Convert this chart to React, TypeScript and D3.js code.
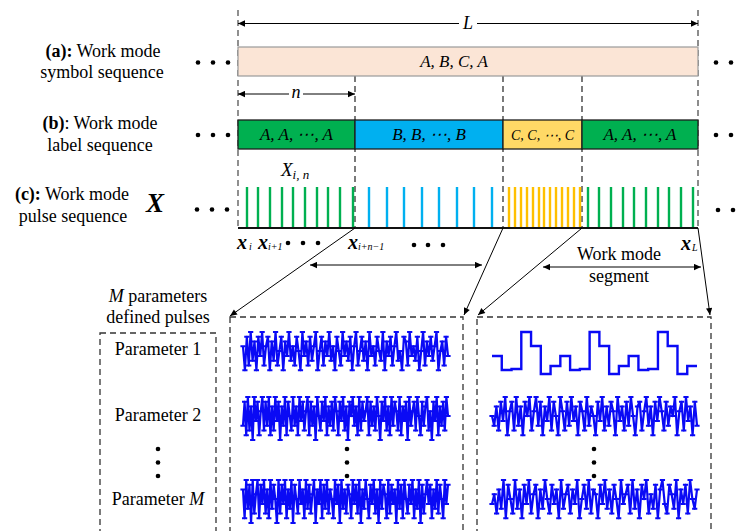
import React from 'react';
import * as d3 from 'd3';

// ---- work mode window: time axis of one symbol window of length L ----
const windowSpan = [0, 460];
const modeBounds = [0, 117, 265, 344, 460];
const modeLabels = ['A, A,  \u22EF, A', 'B, B,  \u22EF, B', 'C, C, \u22EF, C', 'A, A,  \u22EF, A'];
const modeLabelSizes = [17, 17, 14, 17];
const modeFills = ['#00B050', '#00B0F0', '#FFD966', '#00B050'];
const pulseColors = ['#00B050', '#00B0F0', '#FFC000', '#00B050'];
const symbolText = 'A, B, C, A';

// pulse arrival times per segment
const toaSeg1 = [9, 20, 32, 44, 55, 67, 79, 90, 102, 115];
const toaSeg2 = [131, 149, 166, 184, 201, 219, 236, 254];
const toaSeg3 = [271, 277, 283, 289, 295, 301, 306, 312, 318, 324, 330, 336, 342];
const toaSeg4 = [350, 361, 373, 385, 396, 408, 420, 431, 443, 455];
const pulseToas = [toaSeg1, toaSeg2, toaSeg3, toaSeg4];

// ---- parameters of the pulses ----
const longParam1 = [6,1,8,2,9,3,7,1,8,4,9,2,6,8,1,7,3,9,2,5,8,1,7,4,9,3,6,2,8,5,1,9,4,7,2,8,3,6,9,1,5,8,2,7,4,9,3,6,1,8,5,2,9,4,7,3,8,1,6,9,2,5,8,3,7,1,9,4,6,2,8,5,3,9,1,7,4,8,2,6,9,3,5,1,8,7,2,9,4,6,3,8,1,5,9,2,7,4,8,3,6,9,1,5,7,2,8,4];
const longParam2 = [3,8,1,9,2,7,0,9,4,8,1,6,9,2,8,3,9,1,7,2,9,4,8,0,7,3,9,1,8,5,2,9,3,7,1,9,4,8,2,6,9,1,8,3,7,0,9,5,2,8,4,9,1,7,3,8,2,9,6,1,8,4,9,2,7,0,8,5,9,3,7,1,9,2,8,4,6,9,1,8,3,7,2,9,5,0,8,4,9,2,7,1,9,3,8,6,2,9,1,7,4,8,0,9,3,6,8,2,9,5,1,8,3,7,9,2,6,0,8,4,9,1,7,3,8,2,9,5];
const longParamM = [7,1,9,3,8,0,9,2,6,9,1,8,4,9,2,7,1,9,3,8,5,0,9,2,8,4,9,1,7,3,9,0,8,5,2,9,4,7,1,9,3,8,2,6,9,0,7,4,9,1,8,3,9,2,7,5,1,9,4,8,0,9,3,7,2,8,6,1,9,4,8,2,9,0,7,3,9,5,1,8,4,9,2,7,0,9,3,8,6,1,9,2,8,4,7,0,9,3,8,1,9,5,2,8,4,9,1,7,3,9,0,8,2,6,9,4,8,1,7,3,9,2,8,5,1,9,4,8];

const segParam1 = [18,4,5,42,28,0,8,18,4,5,42,28,0,8,18,4,5,42,28,0,8];
const segParam2 = [5,3,7,2,8,4,9,1,6,8,2,9,3,7,1,8,5,9,2,6,9,3,8,1,7,4,9,2,8,5,1,9,6,2,8,3,9,4,7,1,8,6,2,9,3,7,5,1,8,4,9,2,7,3,8,6,1,9,4,7,2,8,3,9,5,1,7,8,2,6,9,3,7,1,8,4,9,6,2,8,3,7,5,9,1,6,8,2,9,4,7,1,8,3];
const segParamM = [4,6,2,7,3,9,1,8,5,2,9,3,7,1,8,4,9,2,6,8,1,7,3,9,5,2,8,4,7,1,9,3,6,8,2,7,4,9,1,5,8,3,9,2,7,6,1,8,4,9,3,7,2,8,5,1,9,4,6,8,2,9,3,7,1,8,5,9,2,6,3,8,1,7,9,4,2,8,6,3,9,1,7,4,8,2,9,5,3,7];

const paramLabels = ['Parameter 1', 'Parameter 2'];

const SERIF = '"Liberation Serif", "Times New Roman", serif';
const BLUE = '#0A0AF5';
const DASH = '6,4';

function noisePath(values: number[], x0: number, x1: number, top: number, bottom: number) {
  const xs = d3.scaleLinear().domain([0, values.length - 1]).range([x0, x1]);
  const ys = d3.scaleLinear().domain([0, 9]).range([bottom, top]);
  const line = d3.line<number>().x((_, i) => xs(i)).y((d) => ys(d));
  const caps = values.map((d, i) => `M${xs(i) - 2.6},${ys(d)}h5.2`).join('');
  return { line: line(values) || '', caps };
}

function NoiseTrace(props: { values: number[]; x0: number; x1: number; top: number; bottom: number }) {
  const { line, caps } = noisePath(props.values, props.x0, props.x1, props.top, props.bottom);
  return (
    <g>
      <path d={line} fill="none" stroke={BLUE} strokeWidth={2.2} strokeLinejoin="round" />
      <path d={caps} fill="none" stroke={BLUE} strokeWidth={2} />
    </g>
  );
}

function StepTrace(props: { values: number[]; x0: number; x1: number; top: number; bottom: number }) {
  const data = [...props.values, props.values[props.values.length - 1]];
  const xs = d3.scaleLinear().domain([0, data.length - 1]).range([props.x0, props.x1]);
  const ys = d3.scaleLinear().domain([0, 42]).range([props.bottom, props.top]);
  const line = d3.line<number>().x((_, i) => xs(i)).y((d) => ys(d)).curve(d3.curveStepAfter);
  return <path d={line(data) || ''} fill="none" stroke={BLUE} strokeWidth={2.4} />;
}

function Dots(props: { x: number[]; y: number[]; r?: number }) {
  const out: React.ReactNode[] = [];
  props.x.forEach((x, i) => props.y.forEach((y, j) => out.push(<circle key={`${i}-${j}`} cx={x} cy={y} r={props.r ?? 2.3} fill="#000" />)));
  return <g>{out}</g>;
}

export default function App() {
  const xSeq = d3.scaleLinear().domain(windowSpan).range([238, 698]);
  const segs = modeBounds.slice(0, -1).map((b, i) => ({ x0: xSeq(b), x1: xSeq(modeBounds[i + 1]), i }));
  const pulseTop = 187;
  const baseY = 228;

  return (
    <div style={{ position: 'absolute', left: 0, top: 0 }}>
      <svg width={742} height={531} style={{ display: 'block', background: '#fff', fontFamily: SERIF }} fontFamily={SERIF}>
        <defs>
          <marker id="ah" viewBox="0 0 10 10" refX="10" refY="5" markerWidth="9" markerHeight="7" markerUnits="userSpaceOnUse" orient="auto-start-reverse">
            <path d="M0,0.5 L10,5 L0,9.5 z" fill="#000" />
          </marker>
        </defs>

        {/* dashed guides */}
        <line x1={xSeq(0)} x2={xSeq(0)} y1={10} y2={baseY} stroke="#555" strokeWidth={1.3} strokeDasharray={DASH} />
        <line x1={xSeq(460)} x2={xSeq(460)} y1={10} y2={baseY} stroke="#8C8C8C" strokeWidth={2} strokeDasharray={DASH} />
        {modeBounds.slice(1, -1).map((b) => (
          <line key={b} x1={xSeq(b)} x2={xSeq(b)} y1={76} y2={baseY} stroke="#222" strokeWidth={1.2} strokeDasharray={DASH} />
        ))}

        {/* L arrow */}
        <line x1={xSeq(0)} x2={xSeq(460)} y1={23.5} y2={23.5} stroke="#000" strokeWidth={1} markerStart="url(#ah)" markerEnd="url(#ah)" />
        <rect x={459} y={14} width={18} height={18} fill="#fff" />
        <text x={468} y={29} textAnchor="middle" fontSize={18} fontStyle="italic">L</text>

        {/* (a) symbol sequence */}
        <text x={103} y={57} textAnchor="middle" fontSize={18}><tspan fontWeight="bold">(a):</tspan> Work mode</text>
        <text x={102} y={78} textAnchor="middle" fontSize={18}>symbol sequence</text>
        <rect x={xSeq(0)} y={47} width={xSeq(460) - xSeq(0)} height={29} fill="#FBE5D6" stroke="#9A9A9A" strokeWidth={1.2} />
        <text x={454} y={67} textAnchor="middle" fontSize={17} fontStyle="italic">{symbolText}</text>
        <Dots x={[198, 213, 228]} y={[62.5]} />
        <Dots x={[716, 731]} y={[62.5]} />

        {/* n arrow */}
        <line x1={xSeq(0)} x2={xSeq(117)} y1={94} y2={94} stroke="#000" strokeWidth={1} markerStart="url(#ah)" markerEnd="url(#ah)" />
        <rect x={289} y={86} width={14} height={14} fill="#fff" />
        <text x={296} y={98} textAnchor="middle" fontSize={18} fontStyle="italic">n</text>

        {/* (b) label sequence */}
        <text x={100} y={129} textAnchor="middle" fontSize={18}><tspan fontWeight="bold">(b)</tspan>: Work mode</text>
        <text x={100} y={151} textAnchor="middle" fontSize={18}>label sequence</text>
        {segs.map((s) => (
          <g key={s.i}>
            <rect x={s.x0} y={120} width={s.x1 - s.x0} height={29} fill={modeFills[s.i]} stroke="#1E1E1E" strokeWidth={1.3} />
            <text x={(s.x0 + s.x1) / 2} y={140} textAnchor="middle" fontSize={modeLabelSizes[s.i]} fontStyle="italic">{modeLabels[s.i]}</text>
          </g>
        ))}
        <Dots x={[198, 213, 228]} y={[135]} />
        <Dots x={[716, 731]} y={[135]} />

        {/* (c) pulse sequence */}
        <text x={72} y={200} textAnchor="middle" fontSize={18}><tspan fontWeight="bold">(c):</tspan> Work mode</text>
        <text x={73} y={222} textAnchor="middle" fontSize={18}>pulse sequence</text>
        <text x={155} y={212} textAnchor="middle" fontSize={27} fontWeight="bold" fontStyle="italic">X</text>
        <text x={281} y={176} fontSize={19} fontStyle="italic">X<tspan fontSize={13} dy={3}>i, n</tspan></text>
        {pulseToas.map((toas, k) =>
          toas.map((t) => (
            <line key={`${k}-${t}`} x1={xSeq(t)} x2={xSeq(t)} y1={pulseTop} y2={baseY} stroke={pulseColors[k]} strokeWidth={2.4} />
          ))
        )}
        <line x1={xSeq(0)} x2={xSeq(460)} y1={baseY} y2={baseY} stroke="#111" strokeWidth={2} />
        <Dots x={[197, 212, 227]} y={[209.5]} />
        <Dots x={[718, 733]} y={[210]} />

        {/* pulse indices */}
        <text x={237} y={249} fontSize={20} fontWeight="bold" fontStyle="italic">x<tspan fontSize={10} fontWeight="normal" dx={2} dy={1}>i</tspan></text>
        <text x={258} y={249} fontSize={20} fontWeight="bold" fontStyle="italic">x<tspan fontSize={10} fontWeight="normal" dy={1}>i+1</tspan></text>
        <Dots x={[288, 303, 318]} y={[243]} />
        <text x={348} y={249} fontSize={20} fontWeight="bold" fontStyle="italic">x<tspan fontSize={10} fontWeight="normal" dy={1}>{'i+n\u22121'}</tspan></text>
        <Dots x={[414, 428, 443]} y={[245]} />
        <text x={681} y={250} fontSize={20} fontWeight="bold" fontStyle="italic">x<tspan fontSize={10} fontWeight="normal" dx={1} dy={1}>L</tspan></text>

        {/* spans */}
        <line x1={310} x2={482} y1={265} y2={265} stroke="#000" strokeWidth={1} markerStart="url(#ah)" markerEnd="url(#ah)" />
        <line x1={543} x2={701} y1={267} y2={267} stroke="#000" strokeWidth={1} markerStart="url(#ah)" markerEnd="url(#ah)" />
        <text x={619} y={260} textAnchor="middle" fontSize={18}>Work mode</text>
        <text x={619} y={282} textAnchor="middle" fontSize={18}>segment</text>

        {/* zoom-in connectors */}
        <line x1={xSeq(117)} y1={baseY} x2={230} y2={316} stroke="#000" strokeWidth={1} markerEnd="url(#ah)" />
        <line x1={xSeq(265)} y1={baseY} x2={464} y2={315} stroke="#000" strokeWidth={1} markerEnd="url(#ah)" />
        <line x1={xSeq(344)} y1={baseY} x2={478} y2={315} stroke="#000" strokeWidth={1} markerEnd="url(#ah)" />
        <line x1={xSeq(460)} y1={baseY} x2={710} y2={315} stroke="#000" strokeWidth={1} markerEnd="url(#ah)" />

        {/* parameter panels */}
        <text x={158} y={302} textAnchor="middle" fontSize={18}><tspan fontStyle="italic">M</tspan> parameters</text>
        <text x={158} y={323} textAnchor="middle" fontSize={18}>defined pulses</text>
        <rect x={100} y={333} width={116} height={230} fill="none" stroke="#333" strokeWidth={1.3} strokeDasharray={DASH} />
        <rect x={230} y={317} width={233} height={250} fill="none" stroke="#333" strokeWidth={1.3} strokeDasharray={DASH} />
        <rect x={477} y={317} width={234} height={250} fill="none" stroke="#333" strokeWidth={1.3} strokeDasharray={DASH} />

        <text x={158} y={355} textAnchor="middle" fontSize={18}>{paramLabels[0]}</text>
        <text x={158} y={421} textAnchor="middle" fontSize={18}>{paramLabels[1]}</text>
        <text x={158} y={505} textAnchor="middle" fontSize={18}>Parameter <tspan fontStyle="italic">M</tspan></text>
        <Dots x={[158]} y={[449, 462.5, 476]} />
        <Dots x={[347]} y={[449, 462.5, 476]} />
        <Dots x={[594]} y={[449, 462.5, 476]} />

        <NoiseTrace values={longParam1} x0={243} x1={448} top={332} bottom={375} />
        <NoiseTrace values={longParam2} x0={243} x1={448} top={397} bottom={440} />
        <NoiseTrace values={longParamM} x0={243} x1={448} top={480} bottom={523} />

        <StepTrace values={segParam1} x0={492} x1={697} top={332} bottom={374} />
        <NoiseTrace values={segParam2} x0={492} x1={697} top={397} bottom={440} />
        <NoiseTrace values={segParamM} x0={492} x1={697} top={480} bottom={523} />
      </svg>
    </div>
  );
}
